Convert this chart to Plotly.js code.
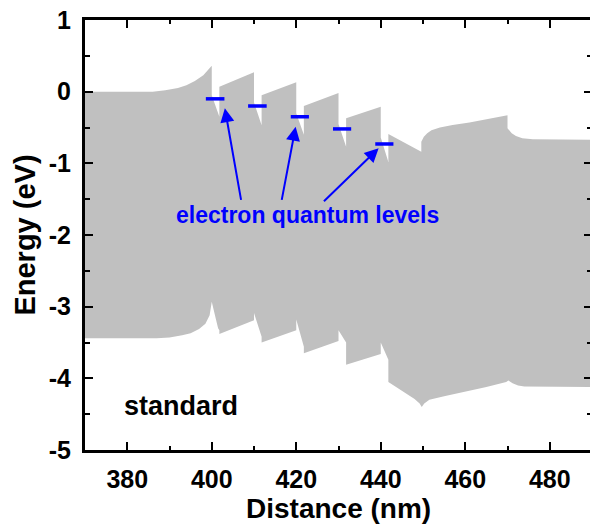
<!DOCTYPE html>
<html>
<head>
<meta charset="utf-8">
<script src="https://cdn.plot.ly/plotly-3.0.1.min.js"></script>
<style>
html, body { margin: 0; padding: 0; overflow: hidden; background: #fff; }
#chart { width: 600px; height: 527px; }
</style>
</head>
<body>
<div id="chart"></div>
<script>
// Conduction band edge (top of grey band)
const cbX = [370, 386, 389, 392, 394, 396, 398, 399, 399.6, 400, 400, 401.8, 401.8, 410, 410, 411.8, 411.8, 420, 420, 421.8, 421.8, 430, 430, 431.8, 431.8, 440, 440, 441.8, 441.8, 449.6, 449.6, 450.2, 451, 452, 454, 457, 461, 465, 470, 470, 471, 472, 473.5, 476, 490];
const cbY = [0, 0, 0.02, 0.05, 0.09, 0.15, 0.23, 0.29, 0.33, 0.36, -0.05, -0.35, 0.07, 0.27, -0.15, -0.47, -0.05, 0.13, -0.30, -0.60, -0.20, -0.02, -0.45, -0.77, -0.37, -0.21, -0.64, -0.98, -0.59, -0.84, -0.70, -0.63, -0.58, -0.54, -0.50, -0.465, -0.43, -0.39, -0.33, -0.51, -0.58, -0.62, -0.65, -0.665, -0.67];

// Valence band edge (bottom of grey band)
const vbX = [370, 387, 390, 393, 395, 397, 398.5, 399.5, 400, 400.5, 401, 401.5, 401.8, 401.8, 410, 410, 411.8, 411.8, 420, 420, 421.8, 421.8, 430, 430, 431.8, 431.8, 440, 440, 441.8, 441.8, 446, 448, 449.2, 449.7, 450.3, 451.5, 455, 460, 465, 469.7, 470.2, 471.2, 472.5, 474, 490];
const vbY = [-3.44, -3.44, -3.43, -3.40, -3.37, -3.31, -3.24, -3.12, -2.93, -3.05, -3.18, -3.30, -3.33, -3.38, -3.19, -3.09, -3.42, -3.50, -3.33, -3.18, -3.56, -3.65, -3.48, -3.33, -3.50, -3.81, -3.66, -3.50, -3.74, -4.05, -4.21, -4.29, -4.35, -4.40, -4.35, -4.30, -4.25, -4.18, -4.12, -4.05, -4.03, -4.07, -4.10, -4.115, -4.12];

// Electron quantum levels
const levelStart  = [398.6, 408.6, 418.7, 428.7, 438.7];
const levelEnd    = [403.0, 413.0, 423.0, 433.0, 443.0];
const levelEnergy = [-0.10, -0.20, -0.35, -0.52, -0.73];

// Arrows of the "electron quantum levels" label
const arrowTipX  = [403.1, 419.85, 439.5];
const arrowTipY  = [-0.23, -0.49, -0.79];
const arrowTailX = [407.0, 416.5, 426.2];
const arrowTailY = [-1.53, -1.53, -1.55];

// Axis ticks
const xTicks = [380, 400, 420, 440, 460, 480];
const yTicks = [-5, -4, -3, -2, -1, 0, 1];

const FONT = 'Liberation Sans, Arial, sans-serif';

// band polygon: conduction edge forward, valence edge backward
const bandX = cbX.concat(vbX.slice().reverse());
const bandY = cbY.concat(vbY.slice().reverse());

const lvX = [], lvY = [];
for (let i = 0; i < levelEnergy.length; i++) {
  lvX.push(levelStart[i], levelEnd[i], null);
  lvY.push(levelEnergy[i], levelEnergy[i], null);
}

const traces = [
  {
    x: bandX, y: bandY, type: 'scatter', mode: 'lines',
    fill: 'toself', fillcolor: '#c0c0c0',
    line: { width: 0, color: '#c0c0c0' }, hoverinfo: 'skip', showlegend: false
  },
  {
    x: lvX, y: lvY, type: 'scatter', mode: 'lines',
    line: { width: 3.5, color: '#0000ff' }, connectgaps: false, showlegend: false
  }
];

const annotations = [];
for (let i = 0; i < arrowTipX.length; i++) {
  annotations.push({
    x: arrowTipX[i], y: arrowTipY[i], xref: 'x', yref: 'y',
    ax: arrowTailX[i], ay: arrowTailY[i], axref: 'x', ayref: 'y',
    text: '', showarrow: true, arrowhead: 2, arrowsize: 1.4, arrowwidth: 2,
    arrowcolor: '#0000ff', standoff: 0, startstandoff: 0
  });
}
annotations.push({
  x: 422.7, y: -1.72, xref: 'x', yref: 'y', text: 'electron quantum levels',
  showarrow: false, xanchor: 'center', yanchor: 'middle',
  font: { family: FONT, size: 23, color: '#0000ff', weight: 'bold' }
});
annotations.push({
  x: 378.7, y: -4.38, xref: 'x', yref: 'y', text: 'standard',
  showarrow: false, xanchor: 'left', yanchor: 'middle',
  font: { family: FONT, size: 27, color: '#000000', weight: 'bold' }
});
// x-axis title placed as paper annotation for exact vertical position
annotations.push({
  x: 0.5, y: -0.137, xref: 'paper', yref: 'paper', text: 'Distance (nm)',
  showarrow: false, xanchor: 'center', yanchor: 'middle',
  font: { family: FONT, size: 28, color: '#000000', weight: 'bold' }
});

const layout = {
  width: 600, height: 527,
  margin: { l: 85, r: 8, t: 20, b: 77 },
  paper_bgcolor: '#ffffff', plot_bgcolor: '#ffffff',
  showlegend: false,
  font: { family: FONT, color: '#000000' },
  xaxis: {
    range: [370, 490], tickvals: xTicks, ticktext: xTicks.map(String),
    ticks: 'inside', ticklen: 8, tickwidth: 2, tickcolor: '#000',
    showline: true, linewidth: 3, linecolor: '#000', mirror: 'ticks',
    showgrid: false, zeroline: false,
    minor: { ticks: 'inside', ticklen: 4, tickwidth: 2, tickcolor: '#000', dtick: 10, tick0: 370, showgrid: false },
    tickfont: { family: FONT, size: 25, color: '#000', weight: 'bold' },
    ticklabelstandoff: 5
  },
  yaxis: {
    range: [-5, 1], tickvals: yTicks, ticktext: yTicks.map(String),
    ticks: 'inside', ticklen: 8, tickwidth: 2, tickcolor: '#000',
    showline: true, linewidth: 3, linecolor: '#000', mirror: 'ticks',
    showgrid: false, zeroline: false,
    minor: { ticks: 'inside', ticklen: 5, tickwidth: 2, tickcolor: '#000', dtick: 0.5, tick0: 0, showgrid: false },
    tickfont: { family: FONT, size: 25, color: '#000', weight: 'bold' },
    ticklabelstandoff: 6,
    title: { text: 'Energy (eV)', font: { family: FONT, size: 29, color: '#000', weight: 'bold' }, standoff: 5 }
  },
  annotations: annotations
};

Plotly.newPlot('chart', traces, layout, { staticPlot: true, displayModeBar: false });
</script>
</body>
</html>
